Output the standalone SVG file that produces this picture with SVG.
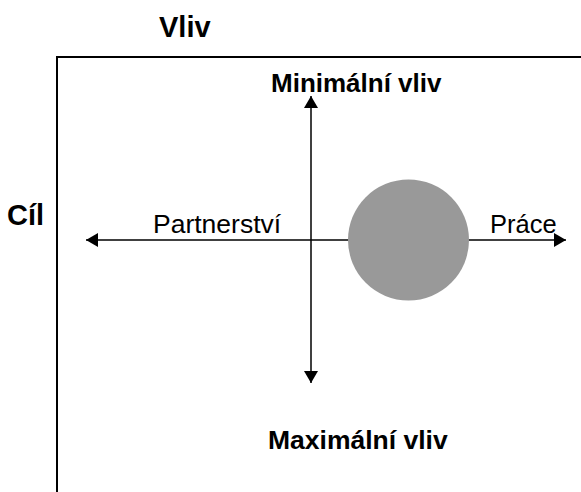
<svg xmlns="http://www.w3.org/2000/svg" width="581" height="492" viewBox="0 0 581 492">
  <style>
    .lbl { font-family: "Liberation Sans", Arial, sans-serif; fill: #000; }
    .b { font-weight: bold; }
    .axis { stroke: #000; stroke-width: 1.5; fill: none; }
    .frame { stroke: #000; stroke-width: 2; fill: none; }
  </style>
  <defs>
    <marker id="arrow" viewBox="0 0 12 14" refX="12" refY="7" markerWidth="12" markerHeight="14" markerUnits="userSpaceOnUse" orient="auto">
      <path d="M0,0 L12,7 L0,14 Z" fill="#000"/>
    </marker>
  </defs>

  <!-- outer frame: top and left edges -->
  <g id="frame">
    <path class="frame" d="M57,492 V57 H581"/>
  </g>

  <!-- axis titles -->
  <g id="title-vliv"><text class="lbl b" x="159" y="37" font-size="29">Vliv</text></g>
  <g id="title-cil"><text class="lbl b" x="7" y="225" font-size="29">Cíl</text></g>

  <!-- connectors -->
  <g id="connectors">
    <line class="axis" x1="311" y1="240" x2="86" y2="240" marker-end="url(#arrow)"/>
    <line class="axis" x1="311" y1="240" x2="566" y2="240" marker-end="url(#arrow)"/>
    <line class="axis" x1="311" y1="240" x2="311" y2="96" marker-end="url(#arrow)"/>
    <line class="axis" x1="311" y1="240" x2="311" y2="383" marker-end="url(#arrow)"/>
  </g>

  <!-- the circle sits over the horizontal axis -->
  <g id="circle">
    <circle cx="408.5" cy="240" r="60.5" fill="#999999"/>
  </g>

  <!-- axis end labels -->
  <g id="label-min"><text class="lbl b" x="271" y="92" font-size="26">Minimální vliv</text></g>
  <g id="label-max"><text class="lbl b" x="268" y="449" font-size="26.5">Maximální vliv</text></g>
  <g id="label-partnerstvi"><text class="lbl" x="153" y="233" font-size="26.5">Partnerství</text></g>
  <g id="label-prace"><text class="lbl" x="490" y="233" font-size="25.5">Práce</text></g>
</svg>
